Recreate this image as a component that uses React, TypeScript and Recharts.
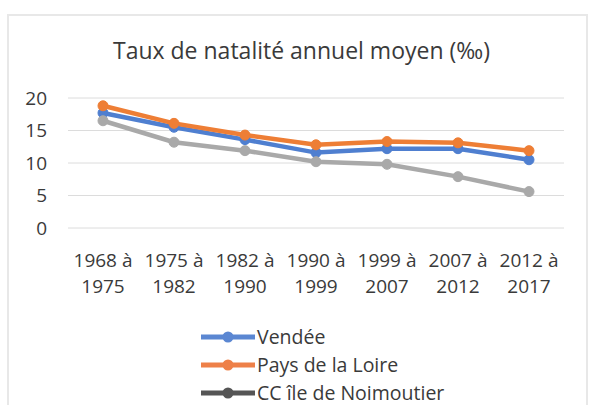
import React from "react";
import { LineChart, Line, XAxis, YAxis, CartesianGrid, Legend } from "recharts";

const periodStarts = ["1968", "1975", "1982", "1990", "1999", "2007", "2012"];
const periodEnds = ["1975", "1982", "1990", "1999", "2007", "2012", "2017"];
const vendee = [17.7, 15.5, 13.6, 11.6, 12.2, 12.2, 10.5];
const paysDeLaLoire = [18.8, 16.1, 14.3, 12.8, 13.3, 13.1, 11.9];
const noirmoutier = [16.5, 13.2, 11.9, 10.2, 9.8, 7.9, 5.6];
const yTicks = [0, 5, 10, 15, 20];
const title = "Taux de natalité annuel moyen (‰)";

const seriesInfo = [
  { key: "vendee", name: "Vendée", color: "#4f7fd0", legendColor: "#5b87d2" },
  { key: "pays", name: "Pays de la Loire", color: "#ee7e35", legendColor: "#ee8048" },
  { key: "cc", name: "CC île de Noimoutier", color: "#a9a9a9", legendColor: "#555555" },
];

const data = periodStarts.map((s, i) => ({
  period: `${s} à ${periodEnds[i]}`,
  vendee: vendee[i],
  pays: paysDeLaLoire[i],
  cc: noirmoutier[i],
}));

const FONT = "'Open Sans', sans-serif";
const TEXT = "#3a3a3a";

const XTick = (props: any) => {
  const { x, y, payload } = props;
  const parts = String(payload.value).split(" à ");
  return (
    <text x={x} y={y} textAnchor="middle" fontFamily={FONT} fontSize={19} fill={TEXT}>
      <tspan x={x} dy={38.5}>{parts[0] + " à"}</tspan>
      <tspan x={x} dy={26.7}>{parts[1]}</tspan>
    </text>
  );
};

const LegendContent = () => (
  <svg width={330} height={72} style={{ display: "block", overflow: "visible" }}>
    {seriesInfo.map((s, i) => {
      const cy = 10 + i * 28;
      return (
        <g key={s.key}>
          <line x1={0} x2={54} y1={cy} y2={cy} stroke={s.legendColor} strokeWidth={5} />
          <circle cx={27} cy={cy} r={5.5} fill={s.legendColor} />
          <text x={56} y={cy + 6.6} fontFamily={FONT} fontSize={19.5} fill={TEXT}>
            {s.name}
          </text>
        </g>
      );
    })}
  </svg>
);

export default function App() {
  return (
    <div
      style={{
        position: "fixed",
        left: 0,
        top: 0,
        width: 589,
        height: 405,
        background: "#ffffff",
        overflow: "hidden",
      }}
    >
      <div
        style={{
          position: "absolute",
          left: 7,
          top: 14,
          width: 577,
          height: 430,
          border: "2px solid #e8e8e8",
        }}
      />
      <svg
        width={589}
        height={80}
        style={{ position: "absolute", left: 0, top: 0 }}
      >
        <text x={301.5} y={59.3} textAnchor="middle" fontFamily={FONT} fontSize={23} fill={TEXT}>
          {title}
        </text>
      </svg>
      <div style={{ position: "absolute", left: 0, top: 0 }}>
        <LineChart
          width={589}
          height={405}
          data={data}
          margin={{ top: 98, right: 25, left: 0, bottom: 117 }}
        >
          <CartesianGrid vertical={false} stroke="#dcdcdc" strokeWidth={1} />
          <XAxis
            dataKey="period"
            axisLine={false}
            tickLine={false}
            tickSize={0}
            tickMargin={0}
            height={60}
            interval={0}
            padding={{ left: 35, right: 35 }}
            tick={<XTick />}
          />
          <YAxis
            domain={[0, 20]}
            ticks={yTicks}
            width={68}
            axisLine={false}
            tickLine={false}
            tickSize={0}
            tickMargin={21}
            tick={{ fontFamily: FONT, fontSize: 19, fill: TEXT }}
          />
          {seriesInfo.map((s) => (
            <Line
              key={s.key}
              type="linear"
              dataKey={s.key}
              name={s.name}
              stroke={s.color}
              strokeWidth={4.5}
              dot={{ r: 5, fill: s.color, stroke: s.color, strokeWidth: 1 }}
              isAnimationActive={false}
            />
          ))}
          <Legend
            layout="vertical"
            align="center"
            verticalAlign="middle"
            content={<LegendContent />}
            wrapperStyle={{ left: 201, top: 327, width: 330, height: 72 }}
          />
        </LineChart>
      </div>
    </div>
  );
}
